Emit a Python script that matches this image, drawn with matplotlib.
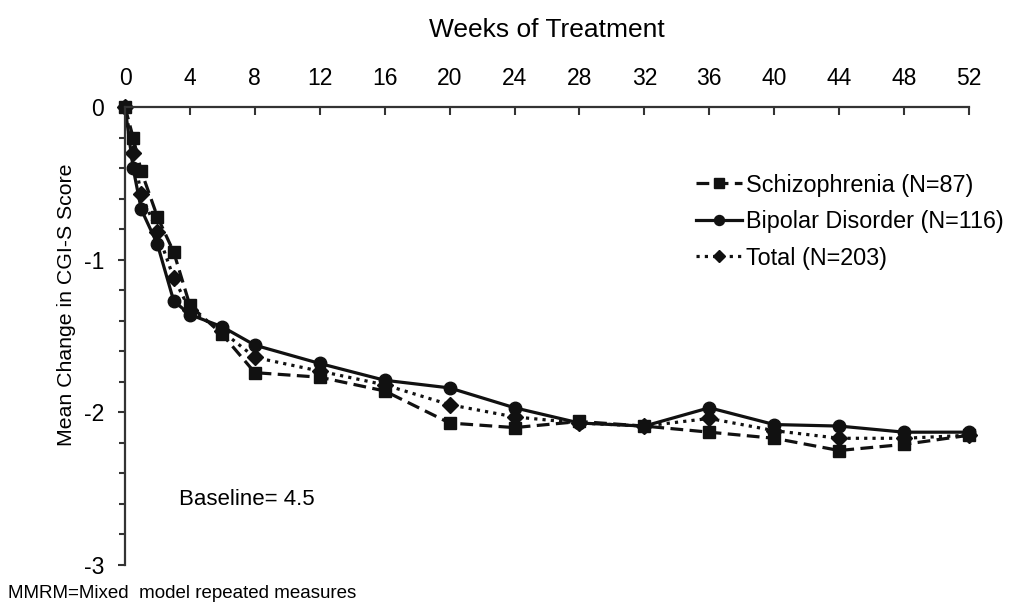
import matplotlib
matplotlib.use("Agg")
import matplotlib.pyplot as plt
from matplotlib.ticker import MultipleLocator

plt.rcParams['font.family'] = ['Liberation Sans', 'DejaVu Sans']
plt.rcParams['axes.unicode_minus'] = False

weeks = [0, 0.5, 1, 2, 3, 4, 6, 8, 12, 16, 20, 24, 28, 32, 36, 40, 44, 48, 52]
schizophrenia = [0, -0.2, -0.42, -0.72, -0.95, -1.3, -1.49, -1.74, -1.77, -1.86,
                 -2.07, -2.1, -2.06, -2.09, -2.13, -2.17, -2.25, -2.21, -2.15]
bipolar = [0, -0.4, -0.67, -0.9, -1.27, -1.36, -1.44, -1.56, -1.68, -1.79,
           -1.84, -1.97, -2.07, -2.09, -1.97, -2.08, -2.09, -2.13, -2.13]
total = [0, -0.3, -0.57, -0.82, -1.12, -1.33, -1.47, -1.64, -1.73, -1.82,
         -1.95, -2.03, -2.07, -2.09, -2.04, -2.12, -2.17, -2.17, -2.15]

labels = ["Schizophrenia (N=87)", "Bipolar Disorder (N=116)", "Total (N=203)"]
xticks = list(range(0, 53, 4))
yticks = [0, -1, -2, -3]

fig = plt.figure(figsize=(10.13, 6.10), dpi=100)
ax = fig.add_axes([125/1013, 45/610, 844/1013, 458/610])

c = '#111111'
ax.plot(weeks, schizophrenia, linestyle=(0, (4, 2)), color=c, lw=2.3,
        marker='s', ms=8.5, label=labels[0], clip_on=False)
ax.plot(weeks, bipolar, linestyle='-', color=c, lw=2.3,
        marker='o', ms=9, label=labels[1], clip_on=False)
ax.plot(weeks, total, linestyle=(0, (1, 1.6)), color=c, lw=2.3,
        marker='D', ms=8, label=labels[2], clip_on=False)

ax.set_xlim(0, 52)
ax.set_ylim(-3, 0)
ax.xaxis.tick_top()
ax.xaxis.set_label_position('top')
ax.set_xticks(xticks)
ax.set_yticks(yticks)
ax.yaxis.set_minor_locator(MultipleLocator(0.2))
for s in ['bottom', 'right']:
    ax.spines[s].set_visible(False)
for s in ['top', 'left']:
    ax.spines[s].set_linewidth(1.6)
    ax.spines[s].set_color('#333333')

ax.tick_params(axis='x', direction='in', length=6, width=1.5, color='#333333',
               labelsize=16.5, pad=12)
ax.tick_params(axis='y', which='major', direction='out', length=5, width=1.5,
               color='#333333', labelsize=16.5, pad=10)
ax.tick_params(axis='y', which='minor', direction='out', length=4, width=1.5,
               color='#333333')

ax.set_xlabel("Weeks of Treatment", fontsize=19, labelpad=22)
ax.set_ylabel("Mean Change in CGI-S Score", fontsize=15.3)
ax.yaxis.set_label_coords(-0.058, 0.568)

ax.text(3.3, -2.57, "Baseline= 4.5", fontsize=16, va='center', ha='left')

leg = ax.legend(loc='upper left', bbox_to_anchor=(0.665, 0.875), frameon=False,
                fontsize=16.8, handlelength=2.0, handletextpad=0.15,
                labelspacing=0.58, borderaxespad=0, markerscale=0.8)

fig.text(8/1013, 1 - 593/610, "MMRM=Mixed  model repeated measures",
         fontsize=13.5, va='center', ha='left')

fig.savefig("out.png", dpi=100)
